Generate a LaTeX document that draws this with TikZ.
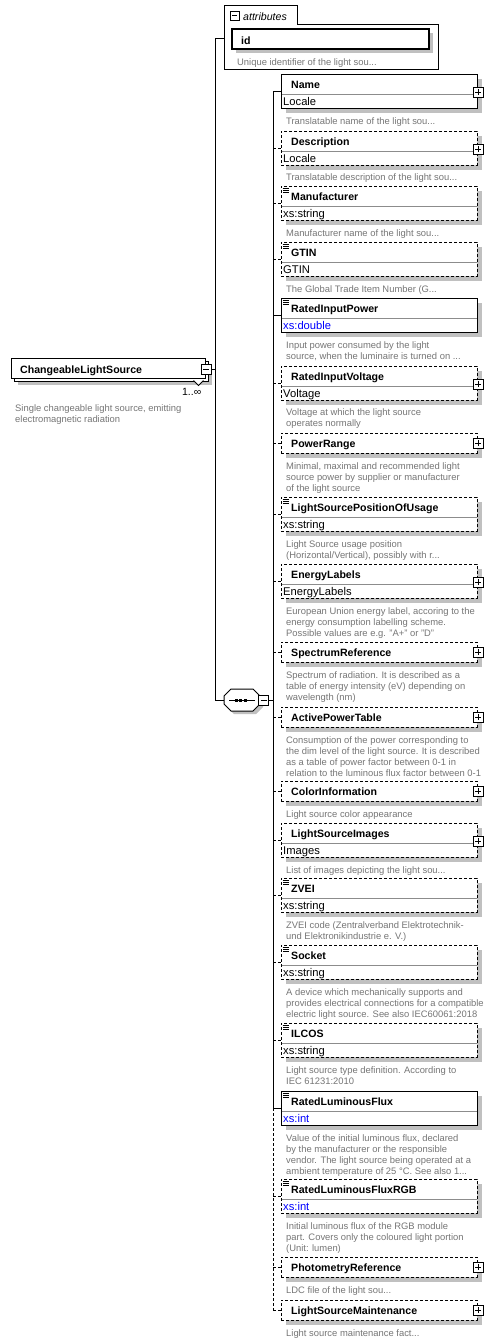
\documentclass[tikz,border=0pt]{standalone}
\usepackage{fontspec}
\setmainfont{Liberation Sans}
\definecolor{shdc}{RGB}{192,192,192}
\definecolor{descg}{RGB}{118,118,118}
\definecolor{divg}{RGB}{140,140,140}
\definecolor{xsblue}{RGB}{0,0,255}
\newcommand\nmfont{\bfseries\fontsize{10.6}{12}\selectfont}
\newcommand\tyfont{\fontsize{11.2}{13}\selectfont}
\newcommand\dsfont{\fontsize{9.4}{11}\selectfont}
\tikzset{
  ebox/.style={draw=black, fill=white, line width=1pt, anchor=north west,
    minimum width=196pt, inner sep=0pt, outer sep=0pt},
  optb/.style={dash pattern=on 3pt off 2pt},
  divl/.style={draw=divg, line width=1pt},
  nm/.style={font=\nmfont, anchor=base west, inner sep=0pt},
  ty/.style={font=\tyfont, anchor=base west, inner sep=0pt},
  ds/.style={font=\dsfont, text=descg, anchor=base west, inner sep=0pt},
  conn/.style={line width=1pt},
  optconn/.style={line width=1pt, dash pattern=on 3pt off 2pt},
  iconbox/.style={draw=black, fill=white, line width=0.8pt, minimum size=10pt, inner sep=0pt, outer sep=0pt},
}
\newcommand\ElTwo[6]{%
  \fill[shdc] (286,#2+5) rectangle (482,#2+39);
  \node[ebox,#5,minimum height=34pt] (#1) at (281,#2) {};
  \draw[divl] (281.5,#2+20) -- (476.5,#2+20);
  \node[nm] (#1-n) at (291,#2+14.5) {#3};
  \node[ty,text=#6] (#1-t) at (283,#2+31) {#4};
}
\newcommand\ElOne[4]{%
  \fill[shdc] (286,#2+5) rectangle (482,#2+25);
  \node[ebox,#4,minimum height=20pt] (#1) at (281,#2) {};
  \node[nm] (#1-n) at (291,#2+14.2) {#3};
}
\newcommand\PlusIc[3]{%
  \node[iconbox] (#1) at (#2,#3) {};
  \draw[line width=0.8pt] ([xshift=-3pt]#1.center) -- ([xshift=3pt]#1.center)
    ([yshift=-3pt]#1.center) -- ([yshift=3pt]#1.center);
}
\newcommand\MinusIc[3]{%
  \node[iconbox] (#1) at (#2,#3) {};
  \draw[line width=0.8pt] ([xshift=-3pt]#1.center) -- ([xshift=3pt]#1.center);
}
\newcommand\EqIc[1]{%
  \draw[line width=0.7pt] (282.5,#1+2.5) -- (288.5,#1+2.5)
    (283,#1+4.5) -- (288.5,#1+4.5) (283,#1+6.5) -- (288.5,#1+6.5);
}
\newcommand\dl[3]{\node[ds] (#1) at (286,#2) {#3};}
\begin{document}
\begin{tikzpicture}[x=1pt,y=-1pt]
\useasboundingbox (0,0) rectangle (492,1342);
\fill[white] (0,0) rectangle (492,1342);

% ---------- root element ----------
\fill[shdc] (18,365) rectangle (212,385);
\draw[fill=white,line width=1pt] (14,361) rectangle (208,381);
\node[draw=black, fill=white, line width=1pt, anchor=north west, minimum width=194pt,
  minimum height=20pt, inner sep=0pt, outer sep=0pt] (root) at (11,358) {};
\node[nm] (root-n) at (20,373) {ChangeableLightSource};
\draw[fill=white,line width=0.8pt] (193.5,380.5) -- (198.5,385.5) -- (203.5,380.5);
\MinusIc{rootic}{206}{369}
\node[font=\fontsize{10.5}{12}\selectfont, anchor=base east, inner sep=0pt] (occ) at (201.5,395.5) {1..∞};
\node[ds] (rd1) at (15,411) {Single changeable light source, emitting};
\node[ds] (rd2) at (15,422.5) {electromagnetic radiation};

% ---------- root bus ----------
\coordinate (rbTop) at (215,38);
\coordinate (rbBot) at (215,700);
\draw[conn] (rbTop) -- (rbBot);
\draw[conn] (rootic.east) -- (rootic.east -| rbTop);

% ---------- attributes ----------
\draw[line width=1pt, fill=white] (224,69) -- (224,5) -- (297,5) -- (297,24) -- (438,24) -- (438,69) -- cycle;
\coordinate (attW) at (224,38);
\draw[conn] (rbTop) -- (attW);
\node[iconbox, minimum size=9pt] (attic) at (234.5,15.5) {};
\draw[line width=0.8pt] ([xshift=-2.5pt]attic.center) -- ([xshift=2.5pt]attic.center);
\node[font=\itshape\fontsize{10.6}{12}\selectfont, anchor=base west, inner sep=0pt] (att-t) at (243,20.5) {attributes};
\fill[shdc] (236,33) rectangle (433,53);
\node[draw=black, fill=white, line width=1.3pt, anchor=north west, minimum width=197pt,
  minimum height=20pt, inner sep=0pt, outer sep=0pt] (aid) at (232,29) {};
\node[nm] (aid-n) at (241,44) {id};
\node[ds] (aidd) at (237,65) {Unique identifier of the light sou...};

% ---------- sequence compositor ----------
\fill[shdc] (227,699)--(234,692)--(256,692)--(263,699)--(263,707)--(256,714)--(234,714)--(227,707)--cycle;
\draw[fill=white,line width=1pt] (224,696)--(231,689)--(253,689)--(260,696)--(260,704)--(253,711)--(231,711)--(224,704)--cycle;
\coordinate (seqW) at (224,700);
\draw[line width=1pt] (229,700) -- (255,700);
\fill (234.5,698.5) rectangle (237.5,701.5);
\fill (239,698.5) rectangle (242,701.5);
\fill (243.5,698.5) rectangle (246.5,701.5);
\MinusIc{seqic}{263.5}{700}
\draw[conn] (rbBot) -- (seqW);

% ---------- child elements ----------
\ElTwo{e1}{74}{Name}{Locale}{solid}{black}
\PlusIc{e1p}{478}{92}
\dl{d1}{124}{Translatable name of the light sou...}

\ElTwo{e2}{131}{Description}{Locale}{optb}{black}
\PlusIc{e2p}{478}{149}
\dl{d2}{180}{Translatable description of the light sou...}

\ElTwo{e3}{186}{Manufacturer}{xs:string}{optb}{black}
\EqIc{186}
\dl{d3}{236}{Manufacturer name of the light sou...}

\ElTwo{e4}{242}{GTIN}{GTIN}{optb}{black}
\EqIc{242}
\dl{d4}{292}{The Global Trade Item Number (G...}

\ElTwo{e5}{298}{RatedInputPower}{xs:double}{solid}{xsblue}
\EqIc{298}
\dl{d5a}{348}{Input power consumed by the light}
\dl{d5b}{359.3}{source, when the luminaire is turned on ...}

\ElTwo{e6}{366}{RatedInputVoltage}{Voltage}{optb}{black}
\PlusIc{e6p}{478}{384}
\dl{d6a}{415}{Voltage at which the light source}
\dl{d6b}{426.3}{operates normally}

\ElOne{e7}{433}{PowerRange}{optb}
\PlusIc{e7p}{478}{443}
\dl{d7a}{469}{Minimal, maximal and recommended light}
\dl{d7b}{480.3}{source power by supplier or manufacturer}
\dl{d7c}{491.6}{of the light source}

\ElTwo{e8}{497}{LightSourcePositionOfUsage}{xs:string}{optb}{black}
\EqIc{497}
\dl{d8a}{547}{Light Source usage position}
\dl{d8b}{558.3}{(Horizontal/Vertical), possibly with r...}

\ElTwo{e9}{564}{EnergyLabels}{EnergyLabels}{optb}{black}
\PlusIc{e9p}{478}{582}
\dl{d9a}{614}{European Union energy label, accoring to the}
\dl{d9b}{625.3}{energy consumption labelling scheme.}
\dl{d9c}{636.6}{Possible values are e.g. "A+" or "D"}

\ElOne{e10}{642}{SpectrumReference}{optb}
\PlusIc{e10p}{478}{652}
\dl{d10a}{678}{Spectrum of radiation. It is described as a}
\dl{d10b}{689.3}{table of energy intensity (eV) depending on}
\dl{d10c}{700.6}{wavelength (nm)}

\ElOne{e11}{707}{ActivePowerTable}{optb}
\PlusIc{e11p}{478}{717}
\dl{d11a}{743}{Consumption of the power corresponding to}
\dl{d11b}{754.3}{the dim level of the light source. It is described}
\dl{d11c}{765.6}{as a table of power factor between 0-1 in}
\dl{d11d}{776.9}{relation to the luminous flux factor between 0-1}

\ElOne{e12}{781}{ColorInformation}{optb}
\PlusIc{e12p}{478}{791}
\dl{d12}{817}{Light source color appearance}

\ElTwo{e13}{823}{LightSourceImages}{Images}{optb}{black}
\PlusIc{e13p}{478}{841}
\dl{d13}{873}{List of images depicting the light sou...}

\ElTwo{e14}{878}{ZVEI}{xs:string}{optb}{black}
\EqIc{878}
\dl{d14a}{928}{ZVEI code (Zentralverband Elektrotechnik-}
\dl{d14b}{939.3}{und Elektronikindustrie e. V.)}

\ElTwo{e15}{945}{Socket}{xs:string}{optb}{black}
\EqIc{945}
\dl{d15a}{995}{A device which mechanically supports and}
\dl{d15b}{1006.3}{provides electrical connections for a compatible}
\dl{d15c}{1017.6}{electric light source. See also IEC60061:2018}

\ElTwo{e16}{1023}{ILCOS}{xs:string}{optb}{black}
\EqIc{1023}
\dl{d16a}{1073}{Light source type definition. According to}
\dl{d16b}{1084.3}{IEC 61231:2010}

\ElTwo{e17}{1091}{RatedLuminousFlux}{xs:int}{solid}{xsblue}
\EqIc{1091}
\dl{d17a}{1141}{Value of the initial luminous flux, declared}
\dl{d17b}{1152.3}{by the manufacturer or the responsible}
\dl{d17c}{1163.6}{vendor. The light source being operated at a}
\dl{d17d}{1174.9}{ambient temperature of 25 °C. See also 1...}

\ElTwo{e18}{1179}{RatedLuminousFluxRGB}{xs:int}{optb}{xsblue}
\EqIc{1179}
\dl{d18a}{1229}{Initial luminous flux of the RGB module}
\dl{d18b}{1240.3}{part. Covers only the coloured light portion}
\dl{d18c}{1251.6}{(Unit: lumen)}

\ElOne{e19}{1257}{PhotometryReference}{optb}
\PlusIc{e19p}{478}{1267}
\dl{d19}{1293}{LDC file of the light sou...}

\ElOne{e20}{1300}{LightSourceMaintenance}{optb}
\PlusIc{e20p}{478}{1310}
\dl{d20}{1336}{Light source maintenance fact...}

% ---------- sequence bus and connectors ----------
\coordinate (sb) at (273,91);
\draw[conn] (seqic.east) -- (seqic.east -| sb);
\draw[conn] (e1.west -| sb) -- (e17.west -| sb);
\draw[optconn] (e17.west -| sb) -- (e20.west -| sb);
\foreach \e in {e1,e5,e17} {\draw[conn] (\e.west -| sb) -- (\e.west);}
\foreach \e in {e2,e3,e4,e6,e7,e8,e9,e10,e11,e12,e13,e14,e15,e16,e18,e19,e20}
  {\draw[optconn] (\e.west -| sb) -- (\e.west);}
\end{tikzpicture}
\end{document}
